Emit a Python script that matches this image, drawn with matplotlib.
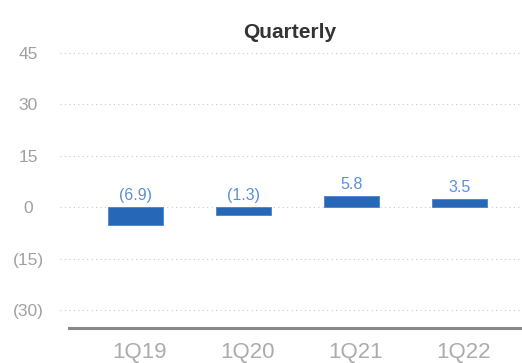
import matplotlib
matplotlib.use("Agg")
from matplotlib import pyplot as plt
import numpy as np

quarters = ["1Q19", "1Q20", "1Q21", "1Q22"]
# bar heights as drawn in the picture
bar_heights = [-5.3, -2.2, 3.3, 2.4]
# value labels printed above the bars
value_labels = ["(6.9)", "(1.3)", "5.8", "3.5"]
y_ticks = [45, 30, 15, 0, -15, -30]
y_tick_labels = ["45", "30", "15", "0", "(15)", "(30)"]

W, H = 522, 363
fig = plt.figure(figsize=(W / 100, H / 100), dpi=100)
plt.rcParams["font.family"] = ["Liberation Sans", "DejaVu Sans"]

left, right = 60, 522
bottom_px, top_px = 327.7, 36
ax = fig.add_axes([left / W, 1 - bottom_px / H, (right - left) / W, (bottom_px - top_px) / H])

x = np.arange(len(quarters))
ax.bar(x, bar_heights, width=0.51, color="#2767b8", edgecolor="#4a82cc", linewidth=0.6, zorder=3)

for xi, h, lab in zip(x, bar_heights, value_labels):
    ax.annotate(lab, (xi, max(h, 0)), xytext=(0, 3), textcoords="offset points",
                ha="center", va="bottom", fontsize=11.5, color="#5b8fd6")

ax.set_xlim(-0.70, 3.58)
ax.set_ylim(-35.2, 50)
ax.set_yticks(y_ticks)
ax.set_yticklabels(y_tick_labels)
ax.set_xticks(x + 0.035)
ax.set_xticklabels(quarters)
ax.tick_params(axis="y", length=0, pad=23, labelsize=12.5, labelcolor="#a0a0a0")
ax.tick_params(axis="x", length=0, pad=10, labelsize=16, labelcolor="#acacac")
for lab in ax.get_yticklabels():
    lab.set_horizontalalignment("center")

for t in y_ticks:
    ax.axhline(t, color="#c8c8c8", linestyle=(0, (1, 3)), linewidth=0.8, zorder=1)

for s in ax.spines.values():
    s.set_visible(False)
ax.axhline(-35.2, xmin=(69 - left) / (right - left), xmax=1, color="#8a8a8a", linewidth=2.2, clip_on=False)

fig.text(290 / W, 1 - 32 / H, "Quarterly", ha="center", va="center",
         fontsize=15, fontweight="bold", color="#333333")

fig.savefig("out.png", dpi=100, facecolor="white")
